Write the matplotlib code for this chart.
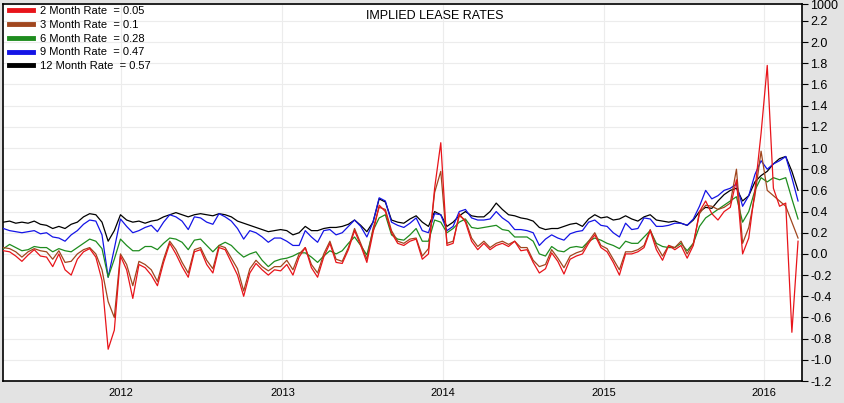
import matplotlib
matplotlib.use("Agg")
import matplotlib.pyplot as plt
import matplotlib.dates as mdates
import pandas as pd

plt.rcParams['font.family'] = ['Liberation Sans', 'DejaVu Sans']

# fortnightly readings, Apr 2011 - Mar 2016
dates = pd.date_range('2011-04-08', periods=130, freq='14D')

rate_2m = [0.03, 0.02, -0.02, -0.07, -0.01, 0.04, -0.02, -0.03, -0.12, 0.0,
           -0.15, -0.2, -0.05, 0.02, 0.05, -0.03, -0.25, -0.90, -0.72, -0.02,
           -0.15, -0.42, -0.1, -0.13, -0.2, -0.30, -0.08, 0.10, 0.0, -0.12,
           -0.22, 0.02, 0.04, -0.1, -0.18, 0.06, 0.04, -0.08, -0.2, -0.40,
           -0.18, -0.09, -0.15, -0.2, -0.15, -0.16, -0.10, -0.2, -0.03, 0.06,
           -0.13, -0.22, -0.03, 0.1, -0.08, -0.09, 0.04, 0.22, 0.08, -0.08,
           0.2, 0.46, 0.40, 0.2, 0.1, 0.08, 0.12, 0.14, -0.05, 0.0,
           0.62, 1.05, 0.08, 0.1, 0.38, 0.3, 0.12, 0.04, 0.1, 0.04,
           0.08, 0.1, 0.07, 0.12, 0.03, 0.04, -0.08, -0.18, -0.14, 0.01,
           -0.07, -0.19, -0.05, -0.02, 0.0, 0.1, 0.18, 0.06, 0.02, -0.08,
           -0.2, 0.0, 0.0, 0.02, 0.06, 0.22, 0.04, -0.06, 0.08, 0.04,
           0.08, -0.04, 0.08, 0.40, 0.50, 0.38, 0.32, 0.40, 0.44, 0.70,
           0.0, 0.15, 0.60, 1.14, 1.78, 0.62, 0.45, 0.48, -0.74, 0.12]

rate_3m = [0.06, 0.05, 0.02, -0.03, 0.02, 0.05, 0.03, 0.02, -0.05, 0.03,
           -0.08, -0.07, 0.0, 0.04, 0.06, 0.0, -0.15, -0.45, -0.6, 0.0,
           -0.1, -0.3, -0.07, -0.1, -0.15, -0.26, -0.05, 0.12, 0.04, -0.08,
           -0.18, 0.04, 0.06, -0.06, -0.14, 0.08, 0.06, -0.04, -0.14, -0.35,
           -0.14, -0.06, -0.12, -0.16, -0.12, -0.12, -0.06, -0.15, 0.0, 0.06,
           -0.1, -0.18, 0.0, 0.12, -0.05, -0.07, 0.06, 0.24, 0.1, -0.05,
           0.24, 0.44, 0.42, 0.22, 0.12, 0.1, 0.14, 0.15, -0.02, 0.05,
           0.58, 0.78, 0.1, 0.12, 0.36, 0.32, 0.15, 0.07, 0.12, 0.06,
           0.1, 0.12, 0.09, 0.12, 0.06, 0.06, -0.06, -0.12, -0.1, 0.04,
           -0.04, -0.13, -0.02, 0.01, 0.03, 0.12, 0.2, 0.08, 0.05, -0.05,
           -0.15, 0.02, 0.02, 0.04, 0.08, 0.23, 0.08, -0.02, 0.08, 0.06,
           0.12, 0.0, 0.1, 0.38, 0.46, 0.45, 0.42, 0.44, 0.48, 0.80,
           0.10, 0.25, 0.55, 0.97, 0.60, 0.55, 0.50, 0.45, 0.30, 0.15]

rate_6m = [0.05, 0.09, 0.06, 0.03, 0.04, 0.07, 0.06, 0.06, 0.02, 0.05,
           0.03, 0.02, 0.06, 0.10, 0.14, 0.12, 0.05, -0.22, -0.05, 0.14,
           0.08, 0.03, 0.03, 0.07, 0.07, 0.04, 0.10, 0.15, 0.14, 0.11,
           0.04, 0.13, 0.14, 0.08, 0.02, 0.08, 0.11, 0.08, 0.02, -0.03,
           0.0, 0.02, -0.06, -0.12, -0.07, -0.05, -0.04, -0.02, 0.01, 0.01,
           -0.03, -0.08, -0.02, 0.03, 0.0, 0.03, 0.1, 0.16, 0.08, -0.01,
           0.22, 0.34, 0.37, 0.18, 0.14, 0.13, 0.18, 0.24, 0.12, 0.12,
           0.32, 0.3, 0.2, 0.24, 0.30, 0.33, 0.25, 0.24, 0.25, 0.26,
           0.27, 0.23, 0.22, 0.16, 0.16, 0.16, 0.12, 0.0, -0.02, 0.07,
           0.03, 0.02, 0.06, 0.07, 0.06, 0.12, 0.15, 0.13, 0.1, 0.08,
           0.05, 0.12, 0.1, 0.1, 0.16, 0.22, 0.1, 0.07, 0.06, 0.06,
           0.10, 0.03, 0.10, 0.26, 0.34, 0.38, 0.42, 0.46, 0.50, 0.54,
           0.30, 0.40, 0.60, 0.72, 0.68, 0.72, 0.70, 0.72, 0.52, 0.33]

rate_9m = [0.24, 0.22, 0.21, 0.20, 0.21, 0.22, 0.19, 0.20, 0.16, 0.15,
           0.12, 0.18, 0.22, 0.28, 0.32, 0.31, 0.18, -0.22, 0.05, 0.33,
           0.26, 0.20, 0.22, 0.25, 0.27, 0.21, 0.30, 0.37, 0.35, 0.31,
           0.23, 0.35, 0.34, 0.30, 0.28, 0.38, 0.35, 0.31, 0.24, 0.14,
           0.22, 0.20, 0.16, 0.11, 0.15, 0.15, 0.12, 0.08, 0.08, 0.22,
           0.16, 0.11, 0.22, 0.23, 0.18, 0.20, 0.26, 0.32, 0.26, 0.16,
           0.30, 0.53, 0.50, 0.30, 0.27, 0.25, 0.29, 0.34, 0.22, 0.20,
           0.38, 0.37, 0.22, 0.26, 0.40, 0.42, 0.34, 0.32, 0.32, 0.33,
           0.40, 0.34, 0.30, 0.23, 0.23, 0.22, 0.20, 0.08, 0.14, 0.18,
           0.15, 0.13, 0.19, 0.21, 0.22, 0.30, 0.32, 0.27, 0.26, 0.20,
           0.16, 0.29, 0.23, 0.24, 0.34, 0.33, 0.26, 0.26, 0.27, 0.29,
           0.29, 0.27, 0.33, 0.45, 0.60, 0.52, 0.55, 0.60, 0.62, 0.66,
           0.45, 0.55, 0.75, 0.88, 0.80, 0.85, 0.88, 0.92, 0.72, 0.50]

rate_12m = [0.30, 0.31, 0.29, 0.30, 0.29, 0.31, 0.28, 0.27, 0.24, 0.26,
            0.24, 0.28, 0.30, 0.35, 0.38, 0.37, 0.30, 0.12, 0.22, 0.37,
            0.32, 0.30, 0.31, 0.29, 0.31, 0.32, 0.35, 0.37, 0.39, 0.37,
            0.35, 0.37, 0.38, 0.37, 0.36, 0.38, 0.37, 0.35, 0.31, 0.29,
            0.27, 0.25, 0.23, 0.21, 0.22, 0.23, 0.22, 0.18, 0.20, 0.26,
            0.22, 0.22, 0.24, 0.25, 0.25, 0.26, 0.28, 0.32, 0.27, 0.21,
            0.30, 0.52, 0.49, 0.32, 0.30, 0.29, 0.33, 0.36, 0.30, 0.26,
            0.40, 0.37, 0.26, 0.30, 0.36, 0.40, 0.36, 0.35, 0.35, 0.40,
            0.48, 0.42, 0.37, 0.36, 0.34, 0.33, 0.31, 0.25, 0.23, 0.24,
            0.24, 0.26, 0.28, 0.29, 0.26, 0.33, 0.37, 0.34, 0.35, 0.32,
            0.33, 0.36, 0.33, 0.31, 0.35, 0.37, 0.32, 0.31, 0.30, 0.31,
            0.29, 0.27, 0.32, 0.40, 0.44, 0.43, 0.50, 0.56, 0.60, 0.62,
            0.50, 0.55, 0.68, 0.74, 0.78, 0.85, 0.90, 0.92, 0.78, 0.60]

labels = ['2 Month Rate  = 0.05', '3 Month Rate  = 0.1', '6 Month Rate  = 0.28',
          '9 Month Rate  = 0.47', '12 Month Rate  = 0.57']
colors = ['#e8141a', '#a0461e', '#1e8c1e', '#1414e6', '#000000']
series = [rate_2m, rate_3m, rate_6m, rate_9m, rate_12m]

yticks = [-1.2, -1.0, -0.8, -0.6, -0.4, -0.2, 0.0, 0.2, 0.4, 0.6, 0.8,
          1.0, 1.2, 1.4, 1.6, 1.8, 2.0, 2.2]
ytop = 2.36

fig = plt.figure(figsize=(8.45, 4.03), dpi=100, facecolor='#e3e3e3')
ax = fig.add_axes([3 / 845, 1 - 381 / 403, 799 / 845, 377 / 403])
ax.set_facecolor('white')

# draw longest maturity first so the 2 month line sits on top
for vals, col, lab, z in reversed(list(zip(series, colors, labels, range(5)))):
    ax.plot(dates, vals, color=col, lw=0.9, label=lab, zorder=10 - z)

ax.set_xlim(pd.Timestamp('2011-04-07'), pd.Timestamp('2016-03-27'))
ax.set_ylim(-1.2, ytop)

ax.yaxis.tick_right()
ax.set_yticks(yticks + [ytop])
ax.set_yticklabels(['%.1f' % v for v in yticks] + ['1000'])
ax.tick_params(axis='y', length=4, width=0.8, labelsize=9, pad=2, colors='black')
ax.xaxis.set_major_locator(mdates.YearLocator())
ax.xaxis.set_major_formatter(mdates.DateFormatter('%Y'))
ax.tick_params(axis='x', length=0, labelsize=8, pad=5)

ax.grid(True, color='#ececec', lw=0.8)
ax.set_axisbelow(True)
for s in ax.spines.values():
    s.set_color('black')
    s.set_linewidth(1.2)

ax.text(0.54, 0.985, 'IMPLIED LEASE RATES', transform=ax.transAxes,
        ha='center', va='top', fontsize=9)

handles, labs = ax.get_legend_handles_labels()
leg = ax.legend(handles[::-1], labs[::-1], loc='upper left', frameon=False,
                fontsize=8, handlelength=2.2, handletextpad=0.6,
                labelspacing=0.35, borderaxespad=0.1,
                bbox_to_anchor=(0.0, 1.01))
for h in leg.get_lines():
    h.set_linewidth(3.5)

fig.savefig('out.png', dpi=100, facecolor=fig.get_facecolor())
